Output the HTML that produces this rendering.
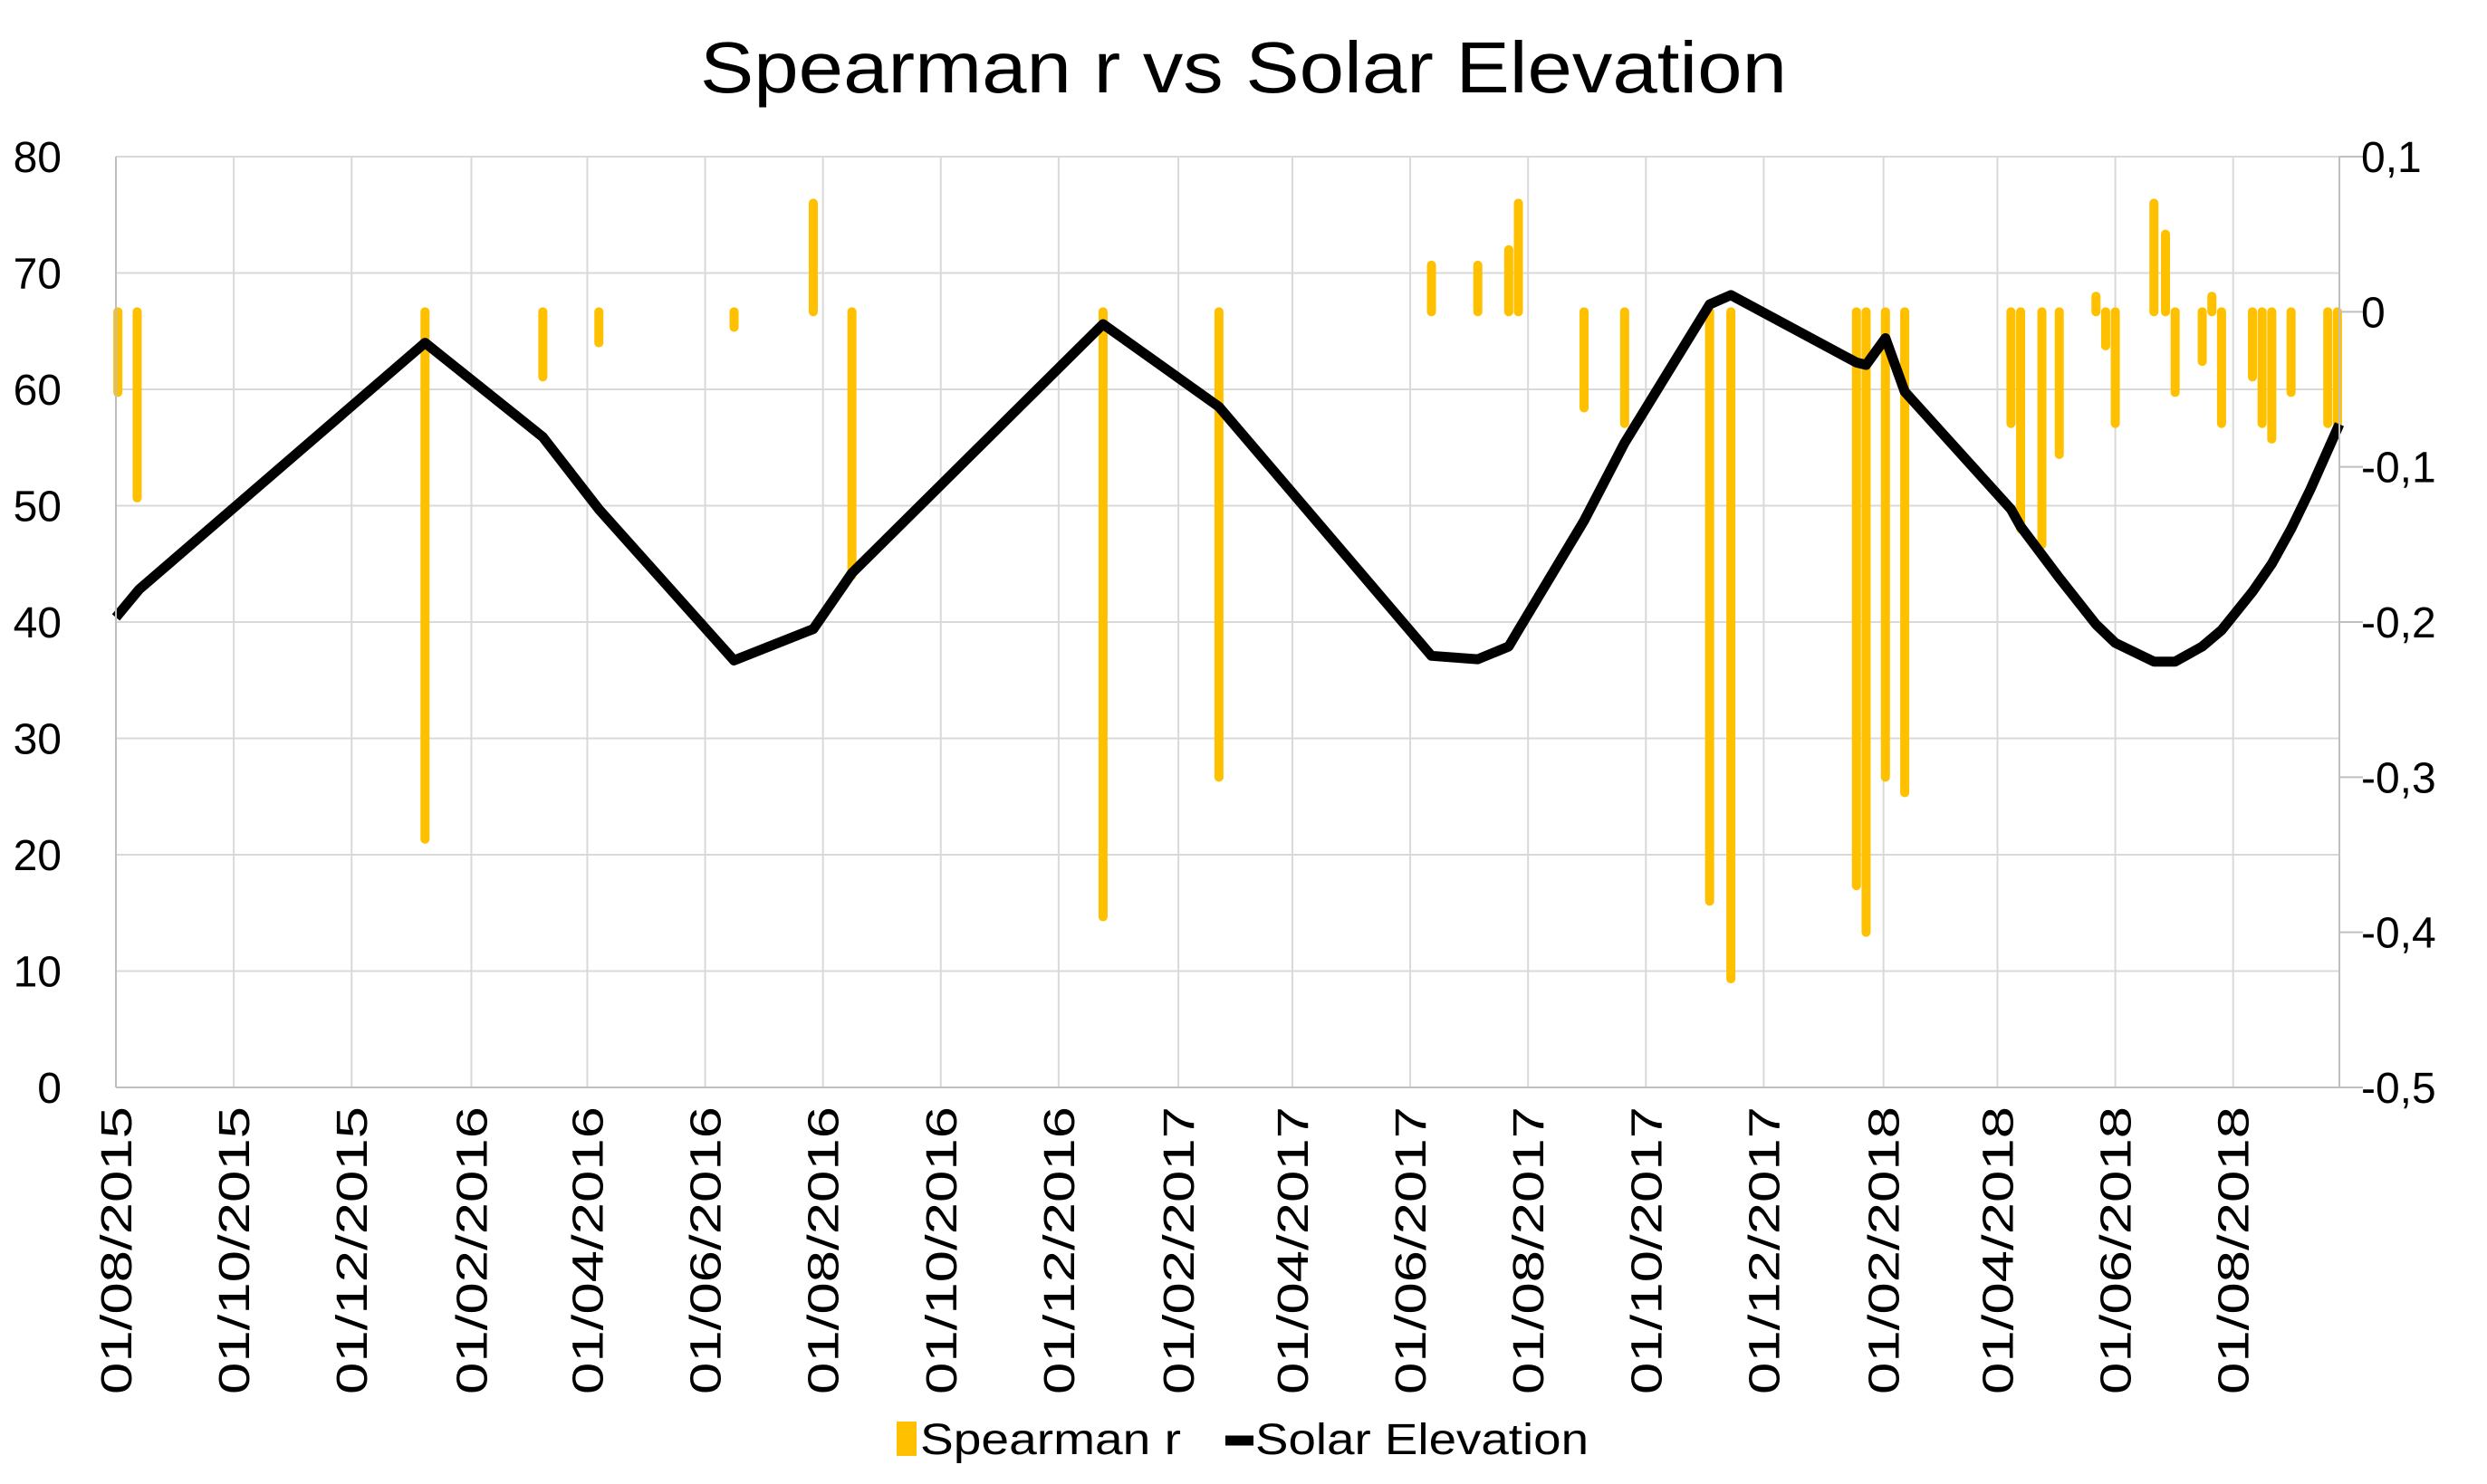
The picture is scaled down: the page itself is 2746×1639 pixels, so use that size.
<!DOCTYPE html>
<html><head><meta charset="utf-8"><style>
html,body{margin:0;padding:0;background:#fff;}
svg{display:block;font-family:"Liberation Sans",sans-serif;}
</style></head><body>
<svg id="chart" width="2746" height="1639" viewBox="0 0 2746 1639" xmlns="http://www.w3.org/2000/svg">
<rect width="2746" height="1639" fill="#fff"/>
<text x="1373" y="102" text-anchor="middle" font-size="80" textLength="1200" lengthAdjust="spacingAndGlyphs">Spearman r vs Solar Elevation</text>
<g id="grid"></g>
<g id="bars"></g>
<g id="line"></g>
<g id="axes"></g>
<g>
<rect x="990" y="1570" width="22" height="38" fill="#FFC000"/>
<text x="1016" y="1606" font-size="48" textLength="288" lengthAdjust="spacingAndGlyphs">Spearman r</text>
<line x1="1353" y1="1591" x2="1384" y2="1591" stroke="#000" stroke-width="11"/>
<text x="1386" y="1606" font-size="48" textLength="368" lengthAdjust="spacingAndGlyphs">Solar Elevation</text>
</g>
</svg>
<script>
// days since 2015-08-01
const barDays=[1,11,160,221,250,320,361,381,511,571,681,705,721,726,760,781,825,836,901,906,916,926,981,986,997,1006,1025,1030,1035,1055,1061,1066,1080,1085,1090,1106,1111,1116,1126,1145,1150];
const barValues=[-0.052,-0.12,-0.34,-0.042,-0.02,-0.01,0.07,-0.17,-0.39,-0.30,0.03,0.03,0.04,0.07,-0.062,-0.072,-0.38,-0.43,-0.37,-0.40,-0.30,-0.31,-0.072,-0.14,-0.15,-0.092,0.01,-0.022,-0.072,0.07,0.05,-0.052,-0.032,0.01,-0.072,-0.042,-0.072,-0.082,-0.052,-0.072,-0.072];
const lineDays=[0,12,160,221,250,320,361,381,511,571,681,705,721,726,760,781,825,836,901,906,916,926,981,986,1006,1025,1035,1055,1066,1080,1090,1106,1116,1126,1136,1151];
const lineValues=[40.4,42.8,64,55.9,49.7,36.7,39.4,44.2,65.6,58.5,37.1,36.8,37.9,39.3,48.7,55.4,67.3,68.1,62.3,62.1,64.4,59.8,49.7,48.2,43.8,39.8,38.2,36.6,36.6,37.9,39.3,42.6,45,48,51.4,57];
const leftTicks=["0","10","20","30","40","50","60","70","80"];
const rightTicks=["-0,5","-0,4","-0,3","-0,2","-0,1","0","0,1"];
const NS="http://www.w3.org/2000/svg";
const L=128,R=2583,T=173,B=1201;
const start=Date.UTC(2015,7,1);
const x=d=>L+d*(R-L)/1151;
const yL=v=>B-(v/80)*(B-T);
const yR=v=>B-((v+0.5)/0.6)*(B-T);
function mk(tag,attrs,parent){const e=document.createElementNS(NS,tag);for(const k in attrs)e.setAttribute(k,attrs[k]);parent.appendChild(e);return e;}
const grid=document.getElementById('grid'),axes=document.getElementById('axes');
leftTicks.forEach((t,i)=>{const v=+t;const yy=yL(v);
 const g=mk('line',{x1:L,x2:R,y1:yy,y2:yy,stroke:'#d9d9d9','stroke-width':2},grid);
 
 const tx=mk('text',{x:68,y:yy+17,'text-anchor':'end','font-size':48},axes);tx.textContent=t;
 });
rightTicks.forEach(t=>{const v=parseFloat(t.replace(',','.'));const yy=yR(v);
 const tk=mk('line',{x1:R,x2:R+26,y1:yy,y2:yy,stroke:'#bfbfbf','stroke-width':2},axes);
 
 const tx=mk('text',{x:2607,y:yy+17,'font-size':48},axes);tx.textContent=t;
 });
for(let m=0;m<=36;m+=2){const dt=new Date(Date.UTC(2015,7+m,1));const d=(dt-start)/864e5;const xx=x(d);
 const g=mk('line',{x1:xx,x2:xx,y1:T,y2:B,stroke:'#d9d9d9','stroke-width':2},grid);
 
 const lab=String(dt.getUTCDate()).padStart(2,'0')+'/'+String(dt.getUTCMonth()+1).padStart(2,'0')+'/'+dt.getUTCFullYear();
 const tx=mk('text',{x:0,y:0,'text-anchor':'end','font-size':48,textLength:318,lengthAdjust:'spacingAndGlyphs',transform:`translate(${xx+17},1222) rotate(-90)`},axes);tx.textContent=lab;
 }
const la=mk('line',{x1:L,x2:L,y1:T,y2:B,stroke:'#bfbfbf','stroke-width':2},axes);

const ra=mk('line',{x1:R,x2:R,y1:T,y2:B,stroke:'#bfbfbf','stroke-width':2},axes);

const xa=mk('line',{x1:L,x2:R,y1:B,y2:B,stroke:'#bfbfbf','stroke-width':2},axes);

const bars=document.getElementById('bars');
barDays.forEach((d,i)=>{const xx=x(d);
 const b=mk('line',{x1:xx,x2:xx,y1:yR(0),y2:yR(barValues[i]),stroke:'#FFC000','stroke-width':10,'stroke-linecap':'round'},bars);
 });
const pts=lineDays.map((d,i)=>x(d).toFixed(1)+','+yL(lineValues[i]).toFixed(1)).join(' ');
const pl=mk('polyline',{points:pts,fill:'none',stroke:'#000','stroke-width':11,'stroke-linejoin':'round'},document.getElementById('line'));

</script>
</body></html>
